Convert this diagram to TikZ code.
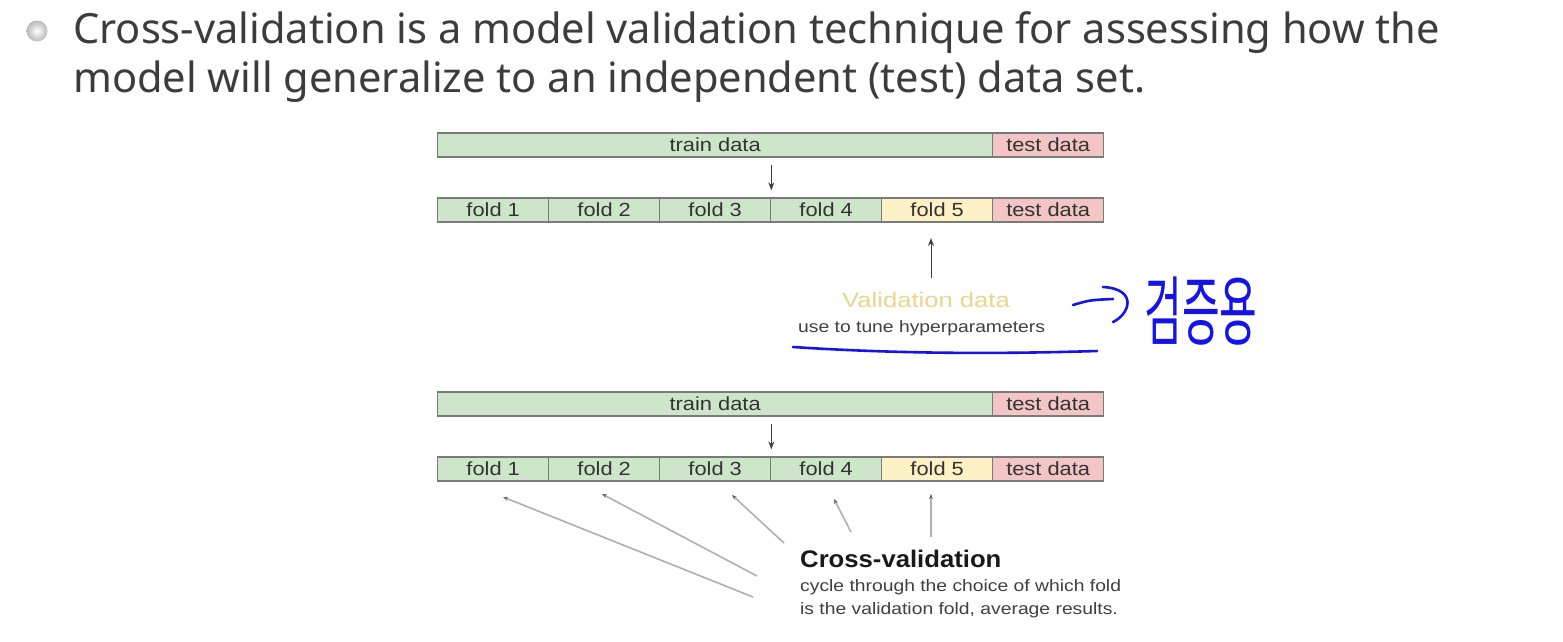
\documentclass[tikz,border=0pt]{standalone}
\usepackage{fontspec}
\setmainfont{Liberation Sans}
\newfontfamily\bulletfont{Noto Sans}
\newfontfamily\krfont{Noto Sans CJK KR}
\usetikzlibrary{arrows.meta,calc}
\definecolor{trainc}{HTML}{CDE6C9}
\definecolor{testc}{HTML}{F3C5C5}
\definecolor{valc}{HTML}{FFF1C6}
\definecolor{edgec}{HTML}{7A7A7A}
\definecolor{txtc}{HTML}{333333}
\definecolor{bullettxt}{HTML}{3C3C3C}
\definecolor{valtxt}{HTML}{EAD58A}
\definecolor{penc}{HTML}{1414E6}
\definecolor{linec}{HTML}{B0B0B0}
\newcommand{\hst}[2]{\scalebox{#1}[1]{#2}}
\newcommand{\ct}[1]{\scalebox{1.15}[1]{#1}}
\begin{document}
\begin{tikzpicture}[x=1pt,y=-1pt,
  cell/.style={draw=edgec, line width=1.3pt, minimum height=24pt, inner sep=0pt,
    anchor=west, text=txtc, font=\fontsize{19}{19}\selectfont},
  fold/.style={cell, fill=trainc, minimum width=111pt},
  arr/.style={draw=black!75, line width=1pt, -{Stealth[length=8pt,width=6pt]}},
  cvline/.style={draw=linec, line width=1.6pt, {Stealth[length=5pt,width=4pt,color=black!60]}-},
  pen/.style={draw=penc, line width=2.6pt, line cap=round, line join=round},
  lbl/.style={inner sep=0pt, anchor=base west}]
\useasboundingbox (0,0) rectangle (1563,641);
\fill[white] (0,0) rectangle (1563,641);

% bullet
\shade[inner color=white, outer color=gray!55] (37,31) circle (10.5);
\node[lbl, text=bullettxt, font=\bulletfont\fontsize{41.6}{41.6}\selectfont] (b1) at (73,43)
  {Cross-validation is a model validation technique for assessing how the};
\node[lbl, text=bullettxt, font=\bulletfont\fontsize{41.6}{41.6}\selectfont] (b2) at (73,92)
  {model will generalize to an independent (test) data set.};

% top diagram
\node[cell, fill=trainc, minimum width=555pt] (tr1) at (437,145) {\ct{train data}};
\node[cell, fill=testc, minimum width=111pt] (te1) at (992,145) {\ct{test data}};
\node[fold] (f11) at (437,210) {\ct{fold 1}};
\node[fold] (f12) at (548,210) {\ct{fold 2}};
\node[fold] (f13) at (659,210) {\ct{fold 3}};
\node[fold] (f14) at (770,210) {\ct{fold 4}};
\node[fold, fill=valc] (f15) at (881,210) {\ct{fold 5}};
\node[cell, fill=testc, minimum width=111pt] (ft1) at (992,210) {\ct{test data}};
\draw[arr] ($(f13.north east)+(0,-32)$) -- ($(f13.north east)+(0,-7)$);

\node[lbl, text=valtxt, font=\fontsize{21}{21}\selectfont] (vt) at (842,307) {\hst{1.22}{Validation data}};
\node[lbl, text=black!75, font=\fontsize{16.5}{16.5}\selectfont] (vs) at (798,332) {\hst{1.17}{use to tune hyperparameters}};
\coordinate (va) at (931,278);
\coordinate (vb) at (931,238);
\draw[arr] (va) -- (vb);

% handwriting
\draw[pen] (793,347) .. controls (900,354) and (1000,354) .. (1097,351);
\draw[pen] (1073,305) .. controls (1090,300) .. (1113,299);
\draw[pen] (1103,287) .. controls (1138,289) and (1130,314) .. (1113,322);
\node[inner sep=0pt, text=penc, font=\krfont\fontsize{41}{41}\selectfont] (kr) at (1201,311)
  {\scalebox{1}[1.85]{검증용}};

% bottom diagram
\node[cell, fill=trainc, minimum width=555pt] (tr2) at (437,404) {\ct{train data}};
\node[cell, fill=testc, minimum width=111pt] (te2) at (992,404) {\ct{test data}};
\node[fold] (f21) at (437,469) {\ct{fold 1}};
\node[fold] (f22) at (548,469) {\ct{fold 2}};
\node[fold] (f23) at (659,469) {\ct{fold 3}};
\node[fold] (f24) at (770,469) {\ct{fold 4}};
\node[fold, fill=valc] (f25) at (881,469) {\ct{fold 5}};
\node[cell, fill=testc, minimum width=111pt] (ft2) at (992,469) {\ct{test data}};
\draw[arr] ($(f23.north east)+(0,-32)$) -- ($(f23.north east)+(0,-7)$);

\node[lbl, text=black!90, font=\bfseries\fontsize{24}{24}\selectfont] (cv) at (800,567) {\hst{1.07}{Cross-validation}};
\node[lbl, text=black!75, font=\fontsize{16.5}{16.5}\selectfont] (cv1) at (800,591) {\hst{1.17}{cycle through the choice of which fold}};
\node[lbl, text=black!75, font=\fontsize{16.5}{16.5}\selectfont] (cv2) at (800,614) {\hst{1.17}{is the validation fold, average results.}};

\coordinate (p1) at (503,497); \coordinate (q1) at (753,597);
\coordinate (p2) at (602,494); \coordinate (q2) at (757,576);
\coordinate (p3) at (732,495); \coordinate (q3) at (784,543);
\coordinate (p4) at (834,499); \coordinate (q4) at (851,532);
\coordinate (p5) at (931,494); \coordinate (q5) at (931,537);
\foreach \i in {1,...,5} {\draw[cvline] (p\i) -- (q\i);}
\end{tikzpicture}
\end{document}
